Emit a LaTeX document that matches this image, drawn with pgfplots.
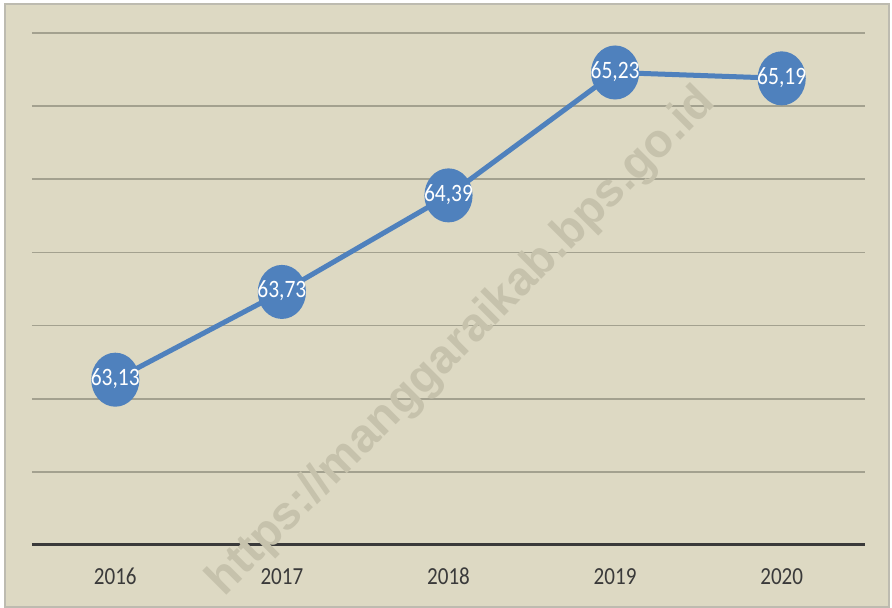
\documentclass[border=0pt]{standalone}
\usepackage{fontspec}
\setmainfont{Carlito}[FakeStretch=0.86]
\newfontfamily\wmfont{Liberation Sans}
\usepackage{pgfplots}
\usepackage{pgfplotstable}
\pgfplotsset{compat=1.18}
\definecolor{bgcol}{HTML}{DDD9C3}
\definecolor{bordercol}{HTML}{BDBBB0}
\definecolor{gridcol}{HTML}{A3A18F}
\definecolor{axcol}{HTML}{3A3A3A}
\definecolor{linecol}{HTML}{4F81BD}
\definecolor{labcol}{HTML}{3A3A3A}
\definecolor{wmcol}{HTML}{C6C2AC}
\pgfplotstableread{
x y lab
0 63.13 63,13
1 63.73 63,73
2 64.39 64,39
3 65.23 65,23
4 65.19 65,19
}\datatab
\begin{document}
\begin{tikzpicture}[x=1pt,y=1pt]
\useasboundingbox (0,0) rectangle (892,608);
\clip (0,0) rectangle (892,608);
\fill[white] (0,0) rectangle (892,608);
\fill[bgcol] (5,1) rectangle (889,604);
\draw[bordercol, line width=2pt] (5,1) rectangle (889,604);
\begin{axis}[
  at={(32pt,63pt)}, anchor=south west,
  scale only axis, width=833pt, height=512pt,
  xmin=-0.5, xmax=4.5, ymin=62, ymax=65.5,
  axis line style={draw=none},
  clip=false,
  xtick={0,1,2,3,4},
  xticklabels={2016,2017,2018,2019,2020},
  major tick length=0pt,
  xticklabel style={anchor=base, yshift=-39pt, text=labcol, font=\fontsize{24.5}{24.5}\selectfont},
  ytick={62.5,63,63.5,64,64.5,65,65.5},
  yticklabels={},
  ymajorgrids=true,
  grid style={gridcol, line width=1.6pt},
  extra y ticks={62},
  extra y tick labels={},
  extra y tick style={grid style={axcol, line width=3pt}},
  point meta=explicit symbolic,
  nodes near coords,
  every node near coord/.append style={anchor=center, text=white, yshift=1pt, font=\fontsize{25}{25}\selectfont},
]
\addplot[linecol, line width=5pt, mark=*, mark size=24.5pt,
  mark options={xscale=0.88, fill=linecol, draw=none}]
  table[x=x, y=y, meta=lab] {\datatab};
\end{axis}
\node[rotate=45, text=wmcol, font=\fontsize{47}{47}\wmfont\bfseries] at (462,266) {https://manggaraikab.bps.go.id};
\end{tikzpicture}
\end{document}
